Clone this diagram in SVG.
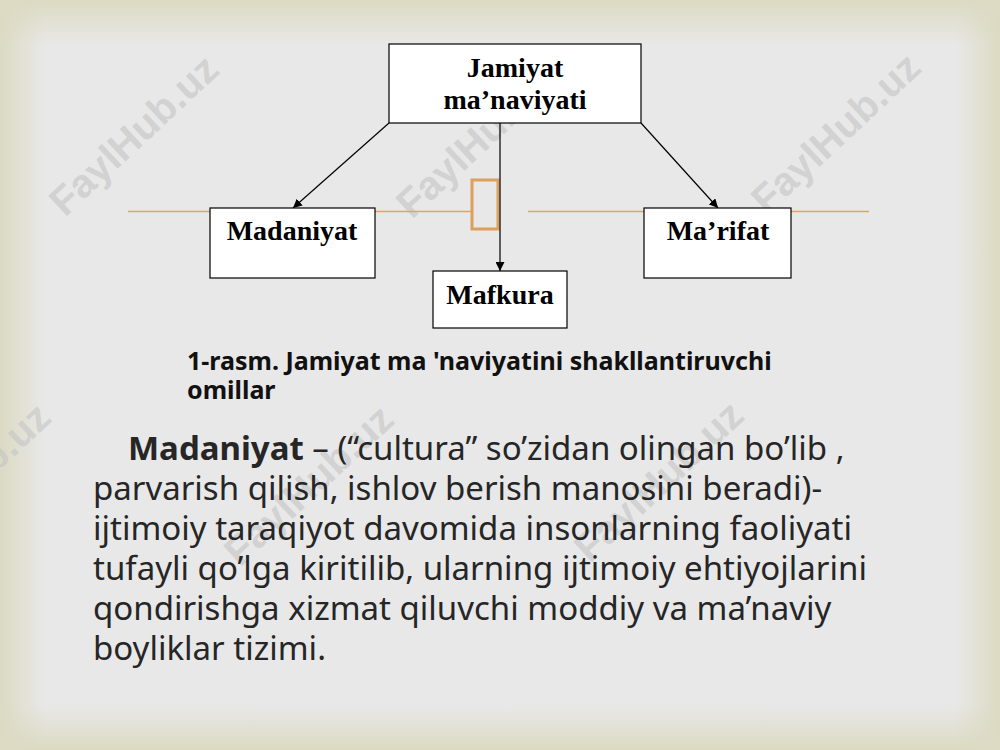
<svg xmlns="http://www.w3.org/2000/svg" width="1000" height="750" viewBox="0 0 1000 750">
<defs>
<linearGradient id="gT" x1="0" y1="0" x2="0" y2="1"><stop offset="0" stop-color="#dcdac2"/><stop offset="1" stop-color="#dcdac2" stop-opacity="0"/></linearGradient>
<linearGradient id="gB" x1="0" y1="1" x2="0" y2="0"><stop offset="0" stop-color="#dcdac2"/><stop offset="1" stop-color="#dcdac2" stop-opacity="0"/></linearGradient>
<linearGradient id="gL" x1="0" y1="0" x2="1" y2="0"><stop offset="0" stop-color="#dcdac2"/><stop offset="1" stop-color="#dcdac2" stop-opacity="0"/></linearGradient>
<linearGradient id="gR" x1="1" y1="0" x2="0" y2="0"><stop offset="0" stop-color="#dcdac2"/><stop offset="1" stop-color="#dcdac2" stop-opacity="0"/></linearGradient>
<marker id="arr" viewBox="0 0 10 10" refX="10" refY="5" markerWidth="9" markerHeight="9" markerUnits="userSpaceOnUse" orient="auto"><path d="M0,0 L10,5 L0,10 z" fill="#000"/></marker>
</defs>
<style>
.box{fill:#fff;stroke:#000;stroke-width:1.2}
.lbl{font-family:"Liberation Serif",serif;font-weight:bold;font-size:28px;fill:#000;text-anchor:middle}
.con{stroke:#000;stroke-width:1.2;fill:none;marker-end:url(#arr)}
.orn{stroke:#e2a45c;stroke-width:1.5}
.wm{font-family:"Liberation Sans",sans-serif;font-weight:bold;font-size:40px;fill:#c6c6c6;fill-opacity:0.65;text-anchor:middle}
.cap{font-family:"Noto Sans","Open Sans",sans-serif;font-weight:bold;font-size:25px;fill:#111}
.body{font-family:"Noto Sans","Open Sans",sans-serif;font-size:33px;fill:#262626}
</style>
<rect width="1000" height="750" fill="#e8e8e8"/>
<rect x="0" y="0" width="1000" height="45" fill="url(#gT)"/>
<rect x="0" y="705" width="1000" height="45" fill="url(#gB)"/>
<rect x="0" y="0" width="45" height="750" fill="url(#gL)"/>
<rect x="955" y="0" width="45" height="750" fill="url(#gR)"/>
<g id="watermarks">
<text class="wm" transform="translate(143,145) rotate(-43)">FaylHub.uz</text>
<text class="wm" transform="translate(490,147) rotate(-43)">FaylHub.uz</text>
<text class="wm" transform="translate(845,143) rotate(-43)">FaylHub.uz</text>
<text class="wm" transform="translate(-25,493) rotate(-43)">FaylHub.uz</text>
<text class="wm" transform="translate(318,495) rotate(-43)">FaylHub.uz</text>
<text class="wm" transform="translate(668,491) rotate(-43)">FaylHub.uz</text>
</g>
<g id="ornament">
<line class="orn" x1="128" y1="211.5" x2="210" y2="211.5"/>
<line class="orn" x1="375" y1="211.5" x2="471" y2="211.5"/>
<line class="orn" x1="528" y1="211.5" x2="644" y2="211.5"/>
<line class="orn" x1="791" y1="211.5" x2="869" y2="211.5"/>
<rect x="472" y="180" width="26" height="49" fill="none" stroke="#dba05e" stroke-width="3"/>
</g>
<g id="connectors">
<line class="con" x1="389" y1="123" x2="293" y2="208"/>
<line class="con" x1="500" y1="123" x2="500" y2="271"/>
<line class="con" x1="641" y1="123" x2="718" y2="208"/>
</g>
<g id="jamiyat">
<rect class="box" x="389" y="44" width="252" height="79"/>
<text class="lbl" x="515" y="77">Jamiyat</text>
<text class="lbl" x="515" y="109">ma’naviyati</text>
</g>
<g id="madaniyat">
<rect class="box" x="210" y="208" width="165" height="70"/>
<text class="lbl" x="292" y="240">Madaniyat</text>
</g>
<g id="marifat">
<rect class="box" x="644" y="208" width="147" height="70"/>
<text class="lbl" x="718" y="240">Ma’rifat</text>
</g>
<g id="mafkura">
<rect class="box" x="433" y="271" width="134" height="57"/>
<text class="lbl" x="500" y="304">Mafkura</text>
</g>
<g id="caption">
<text class="cap" x="187" y="370">1-rasm. Jamiyat ma 'naviyatini shakllantiruvchi</text>
<text class="cap" x="187" y="399">omillar</text>
</g>
<g id="paragraph">
<text class="body" x="128" y="460"><tspan font-weight="bold">Madaniyat</tspan> – (“cultura” so’zidan olingan bo’lib ,</text>
<text class="body" x="93" y="500">parvarish qilish, ishlov berish manosini beradi)-</text>
<text class="body" x="93" y="540">ijtimoiy taraqiyot davomida insonlarning faoliyati</text>
<text class="body" x="93" y="580">tufayli qo’lga kiritilib, ularning ijtimoiy ehtiyojlarini</text>
<text class="body" x="93" y="620">qondirishga xizmat qiluvchi moddiy va ma’naviy</text>
<text class="body" x="93" y="660">boyliklar tizimi.</text>
</g>
</svg>
